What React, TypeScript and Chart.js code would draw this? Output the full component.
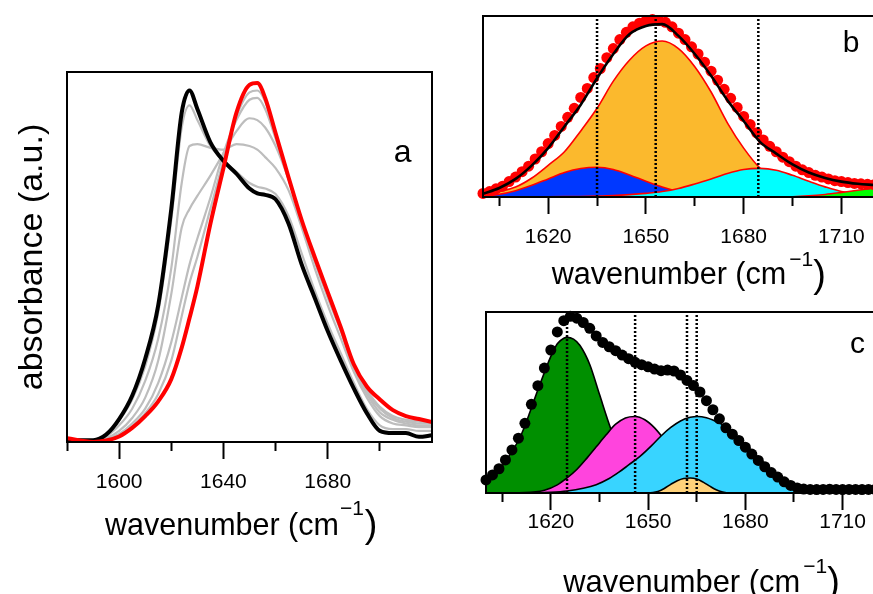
import React, { useEffect, useRef } from 'react';
import { Chart, registerables } from 'chart.js';

Chart.register(...registerables);

const FONT = '"Liberation Sans", Arial, Helvetica, sans-serif';

// ---------------- Panel a ----------------
const aWavenumber = [1580, 1590, 1595, 1600, 1605, 1610, 1615, 1620, 1624, 1627, 1630, 1635, 1640, 1645, 1650, 1653, 1656, 1660, 1665, 1670, 1675, 1680, 1685, 1690, 1695, 1700, 1705, 1710, 1715, 1720];
const aBlack = [0.005, 0.005, 0.02, 0.062, 0.125, 0.225, 0.37, 0.63, 0.89, 0.95, 0.9, 0.81, 0.76, 0.725, 0.685, 0.672, 0.668, 0.656, 0.59, 0.48, 0.39, 0.3, 0.22, 0.145, 0.078, 0.03, 0.024, 0.024, 0.014, 0.018];
const aRed = [0.01, 0.0, 0.004, 0.015, 0.038, 0.07, 0.11, 0.17, 0.255, 0.335, 0.42, 0.59, 0.74, 0.89, 0.965, 0.97, 0.93, 0.835, 0.715, 0.6, 0.5, 0.405, 0.31, 0.21, 0.15, 0.115, 0.086, 0.07, 0.062, 0.054];
const aGray1 = [0.005, 0.005, 0.018, 0.058, 0.115, 0.205, 0.35, 0.6, 0.85, 0.91, 0.87, 0.8, 0.76, 0.73, 0.7, 0.69, 0.685, 0.67, 0.61, 0.51, 0.41, 0.32, 0.24, 0.16, 0.09, 0.045, 0.035, 0.035, 0.03, 0.03];
const aGray2 = [0.005, 0.005, 0.015, 0.045, 0.09, 0.165, 0.28, 0.47, 0.7, 0.8, 0.805, 0.795, 0.79, 0.805, 0.8, 0.79, 0.77, 0.74, 0.68, 0.58, 0.47, 0.37, 0.28, 0.19, 0.12, 0.07, 0.05, 0.045, 0.04, 0.04];
const aGray3 = [0.005, 0.004, 0.01, 0.03, 0.065, 0.12, 0.22, 0.4, 0.58, 0.63, 0.665, 0.72, 0.78, 0.84, 0.875, 0.87, 0.85, 0.8, 0.71, 0.6, 0.49, 0.39, 0.3, 0.2, 0.13, 0.08, 0.06, 0.05, 0.045, 0.045];
const aGray4 = [0.005, 0.003, 0.008, 0.022, 0.05, 0.09, 0.16, 0.27, 0.39, 0.48, 0.55, 0.66, 0.78, 0.87, 0.925, 0.93, 0.9, 0.82, 0.71, 0.6, 0.49, 0.395, 0.305, 0.2, 0.135, 0.09, 0.065, 0.055, 0.05, 0.05];
const aGray5 = [0.005, 0.002, 0.006, 0.018, 0.043, 0.078, 0.13, 0.22, 0.34, 0.43, 0.5, 0.63, 0.76, 0.88, 0.945, 0.95, 0.92, 0.83, 0.71, 0.6, 0.49, 0.4, 0.305, 0.2, 0.14, 0.095, 0.07, 0.06, 0.055, 0.05];
const aMajorTicks = [1600, 1640, 1680];
const aMinorTicks = [1580, 1620, 1660, 1700];

// ---------------- Panel b ----------------
const bWavenumber = [1600, 1605, 1610, 1615, 1620, 1625, 1630, 1635, 1640, 1645, 1650, 1655, 1660, 1665, 1670, 1675, 1680, 1685, 1690, 1695, 1700, 1705, 1710, 1715, 1720];
const bOrange = [0.01, 0.03, 0.055, 0.105, 0.175, 0.25, 0.365, 0.49, 0.64, 0.757, 0.835, 0.862, 0.82, 0.72, 0.58, 0.41, 0.27, 0.16, 0.1, 0.06, 0.035, 0.02, 0.01, 0.005, 0.003];
const bBlue = [0.005, 0.015, 0.035, 0.065, 0.1, 0.135, 0.157, 0.164, 0.152, 0.122, 0.087, 0.055, 0.03, 0.014, 0.006, 0.002, 0, 0, 0, 0, 0, 0, 0, 0, 0];
const bCyan = [0, 0, 0, 0, 0.001, 0.002, 0.003, 0.005, 0.008, 0.013, 0.02, 0.03, 0.047, 0.072, 0.1, 0.13, 0.152, 0.158, 0.148, 0.12, 0.087, 0.056, 0.03, 0.016, 0.008];
const bGreen = [0, 0, 0, 0, 0, 0, 0, 0, 0, 0, 0, 0, 0, 0, 0, 0, 0, 0, 0, 0.001, 0.006, 0.014, 0.025, 0.037, 0.05];
const bFit = [0.018, 0.05, 0.1, 0.175, 0.27, 0.39, 0.51, 0.656, 0.79, 0.9, 0.945, 0.955, 0.89, 0.79, 0.67, 0.535, 0.42, 0.305, 0.24, 0.18, 0.135, 0.105, 0.085, 0.073, 0.066];
const dotWavenumbers = [1600, 1602, 1604, 1606, 1608, 1610, 1612, 1614, 1616, 1618, 1620, 1622, 1624, 1626, 1628, 1630, 1632, 1634, 1636, 1638, 1640, 1642, 1644, 1646, 1648, 1650, 1652, 1654, 1656, 1658, 1660, 1662, 1664, 1666, 1668, 1670, 1672, 1674, 1676, 1678, 1680, 1682, 1684, 1686, 1688, 1690, 1692, 1694, 1696, 1698, 1700, 1702, 1704, 1706, 1708, 1710, 1712, 1714, 1716, 1718, 1720];
const bDots = [0.02, 0.03, 0.045, 0.06, 0.085, 0.11, 0.14, 0.17, 0.21, 0.25, 0.295, 0.34, 0.39, 0.44, 0.49, 0.55, 0.6, 0.66, 0.71, 0.77, 0.82, 0.87, 0.91, 0.94, 0.96, 0.975, 0.98, 0.975, 0.965, 0.94, 0.905, 0.87, 0.83, 0.79, 0.745, 0.695, 0.645, 0.595, 0.545, 0.495, 0.445, 0.4, 0.355, 0.315, 0.28, 0.25, 0.22, 0.195, 0.17, 0.15, 0.135, 0.12, 0.11, 0.1, 0.09, 0.085, 0.08, 0.075, 0.073, 0.07, 0.068];
const bDotted = [1635, 1653, 1684.5];

// ---------------- Panel c ----------------
const cDots = [0.072, 0.1, 0.134, 0.183, 0.238, 0.303, 0.385, 0.49, 0.593, 0.69, 0.79, 0.89, 0.952, 0.976, 0.966, 0.942, 0.91, 0.868, 0.832, 0.808, 0.786, 0.762, 0.742, 0.722, 0.709, 0.697, 0.685, 0.676, 0.679, 0.674, 0.652, 0.622, 0.594, 0.558, 0.51, 0.46, 0.41, 0.36, 0.325, 0.29, 0.253, 0.215, 0.18, 0.145, 0.113, 0.088, 0.062, 0.042, 0.028, 0.022, 0.02, 0.019, 0.02, 0.021, 0.02, 0.019, 0.02, 0.02, 0.019, 0.02, 0.02];
const cGreenX = [1600, 1602, 1604, 1606, 1608, 1610, 1612, 1614, 1616, 1618, 1620, 1622, 1624, 1625, 1627, 1629, 1632, 1635, 1638, 1641, 1644, 1647, 1650, 1654, 1660, 1720];
const cGreenY = [0.065, 0.095, 0.128, 0.175, 0.23, 0.29, 0.37, 0.47, 0.57, 0.665, 0.755, 0.825, 0.855, 0.86, 0.85, 0.815, 0.71, 0.545, 0.38, 0.23, 0.12, 0.05, 0.018, 0.004, 0, 0];
const cMagentaX = [1600, 1612, 1618, 1622, 1625, 1628, 1631, 1634, 1637, 1640, 1643, 1646, 1649, 1652, 1655, 1658, 1661, 1665, 1670, 1675, 1680, 1720];
const cMagentaY = [0, 0.002, 0.015, 0.045, 0.083, 0.13, 0.19, 0.255, 0.32, 0.38, 0.415, 0.423, 0.405, 0.36, 0.295, 0.22, 0.15, 0.08, 0.028, 0.008, 0, 0];
const cCyanX = [1600, 1615, 1620, 1625, 1630, 1634, 1638, 1641, 1644, 1647.5, 1651, 1654, 1657, 1660, 1663, 1665.3, 1668, 1670, 1673, 1676, 1680, 1683, 1686, 1689, 1692, 1694, 1696, 1700, 1720];
const cCyanY = [0, 0.001, 0.004, 0.011, 0.026, 0.046, 0.08, 0.115, 0.155, 0.202, 0.26, 0.315, 0.362, 0.398, 0.418, 0.423, 0.416, 0.403, 0.377, 0.335, 0.27, 0.215, 0.162, 0.108, 0.06, 0.032, 0.01, 0, 0];
const cPeachX = [1600, 1650, 1653, 1655, 1657, 1659, 1661, 1663, 1665, 1667, 1669, 1671, 1673, 1675, 1720];
const cPeachY = [0, 0, 0.008, 0.025, 0.048, 0.068, 0.08, 0.083, 0.077, 0.06, 0.038, 0.018, 0.006, 0, 0];
const cDotted = [1625, 1646, 1662, 1665];

const bcMajorTicks = [1620, 1650, 1680, 1710];
const bcMinorTicks = [1605, 1635, 1665, 1695];

// ---------------- helpers ----------------
const pts = (xs: number[], ys: number[]) => xs.map((x, i) => ({ x, y: ys[i] }));

const decorPlugin = {
  id: 'decor',
  afterDraw(chart: any, _args: any, opts: any) {
    const { ctx, chartArea } = chart;
    ctx.save();
    ctx.strokeStyle = '#000';
    ctx.lineWidth = 2;
    ctx.strokeRect(chartArea.left, chartArea.top, chartArea.right - chartArea.left, chartArea.bottom - chartArea.top);
    ctx.fillStyle = '#000';
    ctx.textBaseline = 'alphabetic';
    if (opts.label) {
      const l = opts.label;
      ctx.font = `${l.size}px ${FONT}`;
      ctx.textAlign = 'center';
      ctx.fillText(l.text, l.x, l.y);
    }
    if (opts.title) {
      const t = opts.title;
      ctx.textAlign = 'left';
      ctx.font = `${t.size}px ${FONT}`;
      let x = t.x;
      ctx.fillText(t.main, x, t.y);
      x += ctx.measureText(t.main).width + t.supGap;
      ctx.font = `${t.supSize}px ${FONT}`;
      ctx.fillText(t.sup, x, t.y - t.rise);
      x += ctx.measureText(t.sup).width + t.closeGap;
      ctx.font = `${t.closeSize}px ${FONT}`;
      ctx.fillText(t.close, x, t.y + t.closeDrop);
    }
    ctx.restore();
  },
};

function xAxes(min: number, max: number, major: number[], minor: number[], labelPad: number, height: number) {
  return {
    x: {
      type: 'linear',
      position: 'bottom',
      min,
      max,
      weight: 1,
      afterBuildTicks: (s: any) => {
        s.ticks = major.map((v) => ({ value: v }));
      },
      afterFit: (s: any) => {
        s.height = height;
      },
      ticks: {
        autoSkip: false,
        maxRotation: 0,
        minRotation: 0,
        padding: labelPad,
        color: '#000',
        font: { size: 21, family: FONT },
        callback: (v: any) => String(v),
      },
      grid: { display: true, drawOnChartArea: false, drawTicks: true, tickLength: 17, tickWidth: 2, tickColor: '#000' },
      border: { display: false },
    },
    x2: {
      type: 'linear',
      position: 'bottom',
      min,
      max,
      weight: 0,
      afterBuildTicks: (s: any) => {
        s.ticks = minor.map((v) => ({ value: v }));
      },
      afterFit: (s: any) => {
        s.height = 0;
      },
      ticks: { display: false },
      grid: { display: true, drawOnChartArea: false, drawTicks: true, tickLength: 9, tickWidth: 2, tickColor: '#000' },
      border: { display: false },
    },
  };
}

const baseOptions = {
  responsive: false,
  animation: false,
  events: [],
  elements: { point: { radius: 0 } },
};

const lineDs = (data: any[], color: string, width: number) => ({
  data,
  borderColor: color,
  borderWidth: width,
  pointRadius: 0,
  fill: false,
  cubicInterpolationMode: 'monotone',
});

const fillDs = (data: any[], fillColor: string, edge: string) => ({
  data,
  borderColor: edge,
  borderWidth: 1.6,
  backgroundColor: fillColor,
  pointRadius: 0,
  fill: 'origin',
  cubicInterpolationMode: 'monotone',
});

const dotDs = (data: any[], color: string, r: number) => ({
  data,
  showLine: false,
  pointRadius: r,
  pointBackgroundColor: color,
  pointBorderColor: color,
  pointBorderWidth: 0,
  clip: false,
});

const vlineDs = (x: number) => ({
  data: [
    { x, y: 0 },
    { x, y: 1 },
  ],
  borderColor: '#000',
  borderWidth: 2.5,
  borderDash: [2, 2],
  pointRadius: 0,
  fill: false,
});

function configA(): any {
  return {
    type: 'line',
    data: {
      datasets: [
        lineDs(pts(aWavenumber, aRed), '#ff0000', 4),
        lineDs(pts(aWavenumber, aBlack), '#000000', 4),
        lineDs(pts(aWavenumber, aGray5), '#bdbdbd', 2.2),
        lineDs(pts(aWavenumber, aGray4), '#bdbdbd', 2.2),
        lineDs(pts(aWavenumber, aGray3), '#bdbdbd', 2.2),
        lineDs(pts(aWavenumber, aGray2), '#bdbdbd', 2.2),
        lineDs(pts(aWavenumber, aGray1), '#bdbdbd', 2.2),
      ],
    },
    options: {
      ...baseOptions,
      layout: { padding: { left: 0, right: 8, top: 72, bottom: 0 } },
      scales: {
        ...xAxes(1580, 1720, aMajorTicks, aMinorTicks, 11, 152),
        y: {
          type: 'linear',
          position: 'left',
          min: 0,
          max: 1,
          afterFit: (s: any) => {
            s.width = 67;
          },
          ticks: { display: false },
          grid: { display: false },
          border: { display: false },
          title: {
            display: true,
            text: 'absorbance (a.u.)',
            color: '#000',
            font: { size: 34, family: FONT },
            padding: { top: 12, bottom: 0 },
          },
        },
      },
      plugins: {
        legend: { display: false },
        tooltip: { enabled: false },
        decor: {
          label: { text: 'a', x: 402.7, y: 161.7, size: 32 },
          title: { main: 'wavenumber (cm', sup: '\u22121', close: ')', x: 105, y: 534.5, size: 30.5, supSize: 21, supGap: 1, rise: 20, closeGap: 1, closeSize: 38, closeDrop: 2.7 },
        },
      },
    },
    plugins: [decorPlugin],
  };
}

function configB(): any {
  return {
    type: 'line',
    data: {
      datasets: [
        ...bDotted.map((x) => vlineDs(x)),
        lineDs(pts(bWavenumber, bFit), '#000000', 2.6),
        dotDs(pts(dotWavenumbers, bDots), '#ff0000', 5.5),
        fillDs(pts(bWavenumber, bGreen), '#00ff00', '#ff0000'),
        fillDs(pts(bWavenumber, bCyan), '#00ffff', '#ff0000'),
        fillDs(pts(bWavenumber, bBlue), '#0038ff', '#ff0000'),
        fillDs(pts(bWavenumber, bOrange), '#fbb92d', '#ff0000'),
      ],
    },
    options: {
      ...baseOptions,
      layout: { padding: { left: 13, right: 16, top: 16, bottom: 0 } },
      scales: {
        ...xAxes(1600, 1720, bcMajorTicks, bcMinorTicks, 11, 103),
        y: { type: 'linear', display: false, min: 0, max: 1 },
      },
      plugins: {
        legend: { display: false },
        tooltip: { enabled: false },
        decor: {
          label: { text: 'b', x: 381, y: 51.7, size: 30 },
          title: { main: 'wavenumber (cm', sup: '\u22121', close: ')', x: 81.7, y: 284, size: 30.6, supSize: 21, supGap: 3, rise: 17.7, closeGap: 0, closeSize: 38, closeDrop: 2.7 },
        },
      },
    },
    plugins: [decorPlugin],
  };
}

function configC(): any {
  return {
    type: 'line',
    data: {
      datasets: [
        ...cDotted.map((x) => vlineDs(x)),
        dotDs(pts(dotWavenumbers, cDots), '#000000', 5.5),
        fillDs(pts(cPeachX, cPeachY), '#ffd27a', '#000000'),
        fillDs(pts(cCyanX, cCyanY), '#38d4ff', '#000000'),
        fillDs(pts(cMagentaX, cMagentaY), '#ff44dd', '#000000'),
        fillDs(pts(cGreenX, cGreenY), '#008f00', '#000000'),
      ],
    },
    options: {
      ...baseOptions,
      layout: { padding: { left: 16, right: 15, top: 12, bottom: 0 } },
      scales: {
        ...xAxes(1600, 1720, bcMajorTicks, bcMinorTicks, 0, 101),
        y: { type: 'linear', display: false, min: 0, max: 1 },
      },
      plugins: {
        legend: { display: false },
        tooltip: { enabled: false },
        decor: {
          label: { text: 'c', x: 387.5, y: 53.3, size: 30 },
          title: { main: 'wavenumber (cm', sup: '\u22121', close: ')', x: 93.3, y: 291.7, size: 30.9, supSize: 21, supGap: 3, rise: 18.4, closeGap: 0, closeSize: 38, closeDrop: 2.7 },
        },
      },
    },
    plugins: [decorPlugin],
  };
}

function ChartCanvas(props: { make: () => any; left: number; top: number; width: number; height: number }) {
  const ref = useRef<HTMLCanvasElement | null>(null);
  useEffect(() => {
    if (!ref.current) return;
    const chart = new Chart(ref.current, props.make());
    return () => chart.destroy();
  }, []);
  return (
    <canvas
      ref={ref}
      width={props.width}
      height={props.height}
      style={{ position: 'absolute', left: props.left, top: props.top, width: props.width, height: props.height }}
    />
  );
}

export default function App() {
  return (
    <div style={{ position: 'absolute', left: 0, top: 0, width: 873, height: 594, overflow: 'hidden', background: '#fff' }}>
      <ChartCanvas make={configA} left={0} top={0} width={440} height={594} />
      <ChartCanvas make={configB} left={470} top={0} width={420} height={300} />
      <ChartCanvas make={configC} left={470} top={300} width={420} height={294} />
    </div>
  );
}
